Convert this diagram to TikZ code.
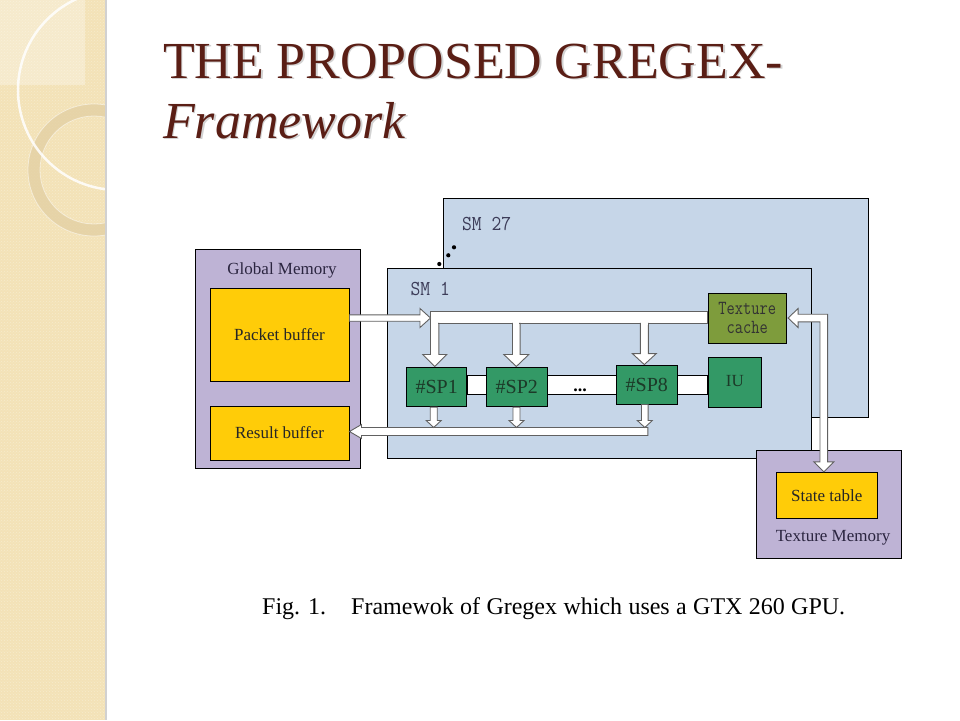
\documentclass[tikz,border=0pt]{standalone}
\usepackage{fontspec}
\usepackage{graphicx}
\setmainfont{Liberation Serif}
\usetikzlibrary{calc,patterns}
\definecolor{smblue}{HTML}{C6D6E8}
\definecolor{mempur}{HTML}{BEB3D5}
\definecolor{bufyel}{HTML}{FFCC08}
\definecolor{spgreen}{HTML}{339966}
\definecolor{texolive}{HTML}{7E9C3C}
\definecolor{titlered}{HTML}{5A1E15}
\definecolor{sidebase}{HTML}{F3E2B7}
\definecolor{ringcol}{HTML}{E2CFA2}
\definecolor{smtext}{HTML}{3C3C58}
\definecolor{sptext}{HTML}{1C3A28}
\definecolor{memtext}{HTML}{2B2540}
% vertical block arrow: #1 x-ref, #2 top-y ref, #3 tip-y ref, #4 x offset, #5 shaft half, #6 head half, #7 head length
\newcommand\vblk[7]{%
  \draw[blk] let \p1=(#1), \p2=(#2), \p3=(#3) in
  (\x1+#4-#5,\y2) -- (\x1+#4+#5,\y2) -- (\x1+#4+#5,\y3+#7) -- (\x1+#4+#6,\y3+#7)
  -- (\x1+#4,\y3) -- (\x1+#4-#6,\y3+#7) -- (\x1+#4-#5,\y3+#7) -- cycle;}
% junction cover: #1 x-ref, #2 y-ref, #3 x offset, #4 shaft half
\newcommand\jcover[4]{%
  \fill[white] let \p1=(#1), \p2=(#2) in
  (\x1+#3-#4+0.8pt,\y2+1.6pt) rectangle (\x1+#3+#4-0.8pt,\y2-1.6pt);}
\begin{document}
\begin{tikzpicture}[x=1pt,y=-1pt,
  box/.style={draw=black, line width=0.9pt, inner sep=0pt},
  sm/.style={box, fill=smblue},
  mem/.style={box, fill=mempur},
  buf/.style={box, fill=bufyel, text=black!85, font=\fontsize{17}{20}\selectfont},
  spbox/.style={box, fill=spgreen, text=sptext, font=\fontsize{20}{20}\selectfont},
  smlabel/.style={text=smtext, inner sep=0pt, font=\ttfamily\fontsize{19}{20}\selectfont},
  memlabel/.style={text=memtext, inner sep=0pt, font=\fontsize{17}{20}\selectfont},
  blk/.style={fill=white, draw=black!62, line width=0.9pt, line join=miter},
  barbox/.style={fill=white, draw=black, line width=0.9pt},
  ttl/.style={anchor=base west, inner sep=0pt, font=\fontsize{52}{52}\selectfont},
  captxt/.style={anchor=base west, inner sep=0pt, font=\fontsize{24}{24}\selectfont}]
\useasboundingbox (0,0) rectangle (960,720);
\fill[white] (0,0) rectangle (960,720);
% sidebar
\begin{scope}
  \clip (0,0) rectangle (105,720);
  \fill[sidebase] (0,0) rectangle (105,720);
  \fill[pattern=crosshatch dots, pattern color=white, opacity=0.3] (0,0) rectangle (105,720);
  \fill[white, opacity=0.3] (0,0) rectangle (85,85);
  \fill[ringcol, opacity=0.75, even odd rule] (94,170) circle[radius=66] (94,170) circle[radius=54];
  \draw[white, opacity=0.5, line width=0.8pt] (94,170) circle[radius=66];
  \draw[white, opacity=0.5, line width=0.8pt] (94,170) circle[radius=54];
  \draw[white, opacity=0.85, line width=2.5pt] (118,90) circle[radius=100];
\end{scope}
\fill[black!18] (105,0) rectangle (107,720);
% title
\node[ttl, text=black!35, opacity=0.5] (t1s) at (164.5,79.5) {\makebox[620pt][s]{THE PROPOSED GREGEX-}};
\node[ttl, text=titlered] (t1) at (163,78) {\makebox[620pt][s]{THE PROPOSED GREGEX-}};
\node[ttl, text=black!35, opacity=0.5, font=\itshape\fontsize{52}{52}\selectfont] (t2s) at (164.5,139.5) {Framework};
\node[ttl, text=titlered, font=\itshape\fontsize{52}{52}\selectfont] (t2) at (163,138) {Framework};
% SM boxes
\node[sm, minimum width=425pt, minimum height=219pt] (sm27) at (655.5,307.5) {};
\node[smlabel, anchor=west] (sm27l) at (462,224) {\scalebox{1}[1.12]{SM 27}};
\fill (439.3,264) circle[radius=2.1];
\fill (448.3,255.3) circle[radius=2.1];
\fill (454,247.3) circle[radius=2.1];
\node[sm, minimum width=424pt, minimum height=190pt] (sm1) at (599,363) {};
\node[smlabel, anchor=west] (sm1l) at (410.5,288.5) {\scalebox{1}[1.12]{SM 1}};
% global memory
\node[mem, minimum width=165pt, minimum height=219pt] (gm) at (277.5,358.5) {};
\node[memlabel] (gml) at (282,270) {Global Memory};
\node[buf, minimum width=139pt, minimum height=93pt] (packet) at (279.5,334.5) {Packet buffer};
\node[buf, minimum width=139pt, minimum height=54pt] (result) at (279.5,433) {Result buffer};
% texture memory
\node[mem, minimum width=145pt, minimum height=107.6pt] (texmem) at (829.2,504.5) {};
\node[memlabel] (texmeml) at (833,538) {Texture Memory};
\node[buf, minimum width=101.7pt, minimum height=46pt] (state) at (826.8,495.3) {State table};
% units in SM 1
\node[box, fill=texolive, minimum width=78.7pt, minimum height=50pt, align=center,
      text=black!80, font=\ttfamily\fontsize{16}{19}\selectfont] (tex) at (747.3,318)
      {\scalebox{1}[1.25]{Texture}\\\scalebox{1}[1.25]{cache}};
\node[box, fill=spgreen, text=sptext, minimum width=53.7pt, minimum height=50pt,
      font=\fontsize{17}{20}\selectfont] (iu) at (734.8,382) {\raisebox{1.5pt}{IU}};
\node[spbox, minimum width=60pt, minimum height=39.7pt] (sp1) at (436.7,386.8) {\#SP1};
\node[spbox, minimum width=60.3pt, minimum height=39.7pt] (sp2) at (516.8,386.8) {\#SP2};
\node[spbox, minimum width=60.3pt, minimum height=39pt] (sp8) at (646.8,384.5) {\#SP8};
% connecting bars
\coordinate (barT) at (0,375);
\coordinate (barB) at (0,394);
\draw[barbox] (sp1.east |- barT) rectangle (sp2.west |- barB);
\draw[barbox] (sp2.east |- barT) rectangle (sp8.west |- barB);
\draw[barbox] (sp8.east |- barT) rectangle (iu.west |- barB);
\node[inner sep=0pt, anchor=base, font=\bfseries\fontsize{18}{18}\selectfont] (dots) at (580,391) {...};
% top bus
\coordinate (busT) at (430.5,311.7);
\coordinate (busB) at (0,323.3);
\coordinate (pkc) at (0,318);
\draw[blk] (busT) rectangle (tex.west |- busB);
\vblk{sp1.north}{busB}{sp1.north}{-2pt}{4.2pt}{12pt}{12pt}
\vblk{sp2.north}{busB}{sp2.north}{-0.5pt}{3.8pt}{12.5pt}{12pt}
\vblk{sp8.north}{busB}{sp8.north}{-2.5pt}{4pt}{12pt}{11pt}
\jcover{sp1.north}{busB}{-2pt}{4.2pt}
\jcover{sp2.north}{busB}{-0.5pt}{3.8pt}
\jcover{sp8.north}{busB}{-2.5pt}{4pt}
% packet -> bus
\draw[blk] let \p1=(packet.east |- pkc), \p2=(busT) in
  (\x1,\y1+3.2pt) -- (\x2-10.5pt,\y1+3.2pt) -- (\x2-10.5pt,\y1+9.5pt) -- (\x2,\y1)
  -- (\x2-10.5pt,\y1-9.5pt) -- (\x2-10.5pt,\y1-3.2pt) -- (\x1,\y1-3.2pt) -- cycle;
% return bus -> result buffer
\coordinate (retC) at (0,431.5);
\coordinate (retT) at (0,427.5);
\draw[blk] let \p1=(result.east |- retC), \p2=(sp8.south) in
  (\x1,\y1) -- (\x1+12pt,\y1+7pt) -- (\x1+12pt,\y1+4pt) -- (\x2+1pt,\y1+4pt)
  -- (\x2+1pt,\y1-4pt) -- (\x1+12pt,\y1-4pt) -- (\x1+12pt,\y1-7pt) -- cycle;
\vblk{sp1.south}{sp1.south}{retT}{-3pt}{3.5pt}{7.5pt}{7pt}
\vblk{sp2.south}{sp2.south}{retT}{-0.3pt}{3.5pt}{7.5pt}{7pt}
\vblk{sp8.south}{sp8.south}{retT}{-2pt}{3.3pt}{7.5pt}{7pt}
% texture cache <-> state table
\draw[blk] let \p1=(tex.east), \p2=(state.north) in
  (\x1+1pt,\y1) -- (\x1+11pt,\y1+9.5pt) -- (\x1+11pt,\y1+3.8pt) -- (\x2-3pt+3.8pt,\y1+3.8pt)
  -- (\x2-3pt+3.8pt,\y2+10pt) -- (\x2-3pt+10pt,\y2+10pt) -- (\x2-3pt,\y2)
  -- (\x2-3pt-10pt,\y2+10pt) -- (\x2-3pt-3.8pt,\y2+10pt) -- (\x2-3pt-3.8pt,\y1-3.8pt)
  -- (\x1+11pt,\y1-3.8pt) -- (\x1+11pt,\y1-9.5pt) -- cycle;
% caption
\node[captxt] (capa) at (262,614) {Fig. 1.};
\node[captxt] (capb) at (351,614) {\makebox[494pt][s]{Framewok of Gregex which uses a GTX 260 GPU.}};
\end{tikzpicture}
\end{document}
